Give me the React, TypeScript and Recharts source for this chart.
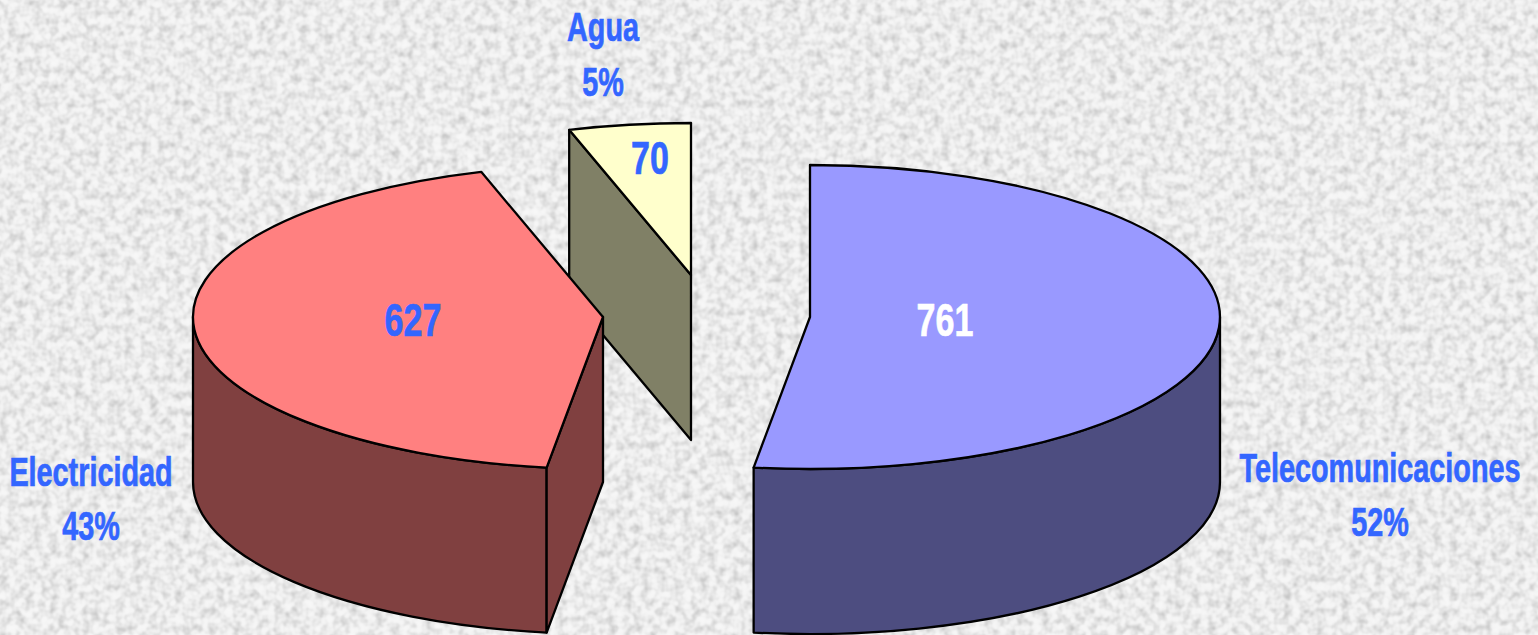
import React from "react";
import { PieChart, Pie, Cell } from "recharts";

// Draw order follows the list: back slice first.
const categories = ["Agua", "Electricidad", "Telecomunicaciones"];
const values = [70, 627, 761];

const WIDTH = 1538;
const HEIGHT = 635;
const FONT = "'Liberation Sans', Arial, sans-serif";
const BLUE = "#3366FF";

const topColors = ["#FFFFCC", "#FF8080", "#9999FF"];
const sideColors = ["#808066", "#804040", "#4D4D80"];
const valueColors = [BLUE, BLUE, "#FFFFFF"];
const explode = [
  { dx: -9, dy: -42 },
  { dx: -97, dy: 0 },
  { dx: 110, dy: 0 },
];
const valueAnchors = [
  { x: 650, y: 158 },
  { x: 413, y: 320 },
  { x: 945, y: 320 },
];
const nameAnchors = [
  { x: 603, y: 27, y2: 82 },
  { x: 91, y: 472, y2: 526 },
  { x: 1380, y: 468, y2: 522 },
];

const CX = 700;
const CY = 317;
const RX = 410;
const RY = 152;
const DEPTH = 165;
const VALUE_FONT = 46;
const VALUE_SQUEEZE = 0.74;
const NAME_FONT = 40;
const NAME_SQUEEZE = 0.72;
const NOISE_TABLE = "0.76 0.79 0.83 0.87 0.905 0.94 0.96 0.968 0.972 0.975";

const data = categories.map((name, i) => ({ name, value: values[i], slot: i }));

const rad = (d: number) => (d * Math.PI) / 180;

function Slice3D(props: any) {
  const { startAngle, endAngle, cx, cy, outerRadius, payload } = props;
  const slot = payload.slot ?? props.slot;
  const ax = cx + explode[slot].dx;
  const ay = cy + explode[slot].dy;
  const rx = outerRadius;
  const ry = (outerRadius * RY) / RX;
  const pt = (a: number, d = 0) => [ax + rx * Math.cos(rad(a)), ay - ry * Math.sin(rad(a)) + d];
  const f = (p: number[]) => `${p[0].toFixed(2)} ${p[1].toFixed(2)}`;
  const arc = (a: number, b: number, d = 0) => {
    const large = Math.abs(b - a) > 180 ? 1 : 0;
    const sweep = b > a ? 0 : 1;
    return `A ${rx} ${ry} 0 ${large} ${sweep} ${f(pt(b, d))}`;
  };
  const stroke = { stroke: "#000", strokeWidth: 2.3, strokeLinejoin: "round" as const };
  const side = sideColors[slot];
  const parts: React.ReactNode[] = [];

  // Curved outer wall: only the front half of the ellipse shows.
  for (const [lo, hi] of [
    [180, 360],
    [540, 720],
  ]) {
    const a0 = Math.max(startAngle, lo);
    const a1 = Math.min(endAngle, hi);
    if (a1 > a0) {
      parts.push(
        <path
          key={`wall${lo}`}
          d={`M ${f(pt(a0))} ${arc(a0, a1)} L ${f(pt(a1, DEPTH))} ${arc(a1, a0, DEPTH)} Z`}
          fill={side}
          {...stroke}
        />,
      );
    }
  }

  // Flat cut faces that turn toward the viewer.
  const apex = [ax, ay];
  const apexLow = [ax, ay + DEPTH];
  const eps = 1e-6;
  if (Math.cos(rad(startAngle)) > eps) {
    parts.push(
      <path
        key="cutStart"
        d={`M ${f(apex)} L ${f(pt(startAngle))} L ${f(pt(startAngle, DEPTH))} L ${f(apexLow)} Z`}
        fill={side}
        {...stroke}
      />,
    );
  }
  if (Math.cos(rad(endAngle)) < -eps) {
    parts.push(
      <path
        key="cutEnd"
        d={`M ${f(apex)} L ${f(pt(endAngle))} L ${f(pt(endAngle, DEPTH))} L ${f(apexLow)} Z`}
        fill={side}
        {...stroke}
      />,
    );
  }

  parts.push(
    <path
      key="top"
      d={`M ${f(apex)} L ${f(pt(startAngle))} ${arc(startAngle, endAngle)} Z`}
      fill={topColors[slot]}
      {...stroke}
    />,
  );
  return <g>{parts}</g>;
}

function Squeezed({ x, y, size, squeeze, fill, children }: any) {
  return (
    <text
      transform={`translate(${x} ${y}) scale(${squeeze} 1)`}
      fontSize={size}
      fill={fill}
      stroke={fill}
      strokeWidth={0.7}
      fontFamily={FONT}
      fontWeight={700}
      textAnchor="middle"
      dominantBaseline="central"
    >
      {children}
    </text>
  );
}

function SliceLabels(props: any) {
  const { index, percent, name, value } = props;
  const n = nameAnchors[index];
  const v = valueAnchors[index];
  return (
    <g>
      <Squeezed x={v.x} y={v.y} size={VALUE_FONT} squeeze={VALUE_SQUEEZE} fill={valueColors[index]}>
        {value}
      </Squeezed>
      <Squeezed x={n.x} y={n.y} size={NAME_FONT} squeeze={NAME_SQUEEZE} fill={BLUE}>
        {name}
      </Squeezed>
      <Squeezed x={n.x} y={n.y2} size={NAME_FONT} squeeze={NAME_SQUEEZE} fill={BLUE}>
        {`${Math.round(percent * 100)}%`}
      </Squeezed>
    </g>
  );
}

export default function App() {
  return (
    <div style={{ position: "absolute", left: 0, top: 0, width: WIDTH, height: HEIGHT, overflow: "hidden" }}>
      <svg width={WIDTH} height={HEIGHT} style={{ position: "absolute", left: 0, top: 0 }}>
        <defs>
          <filter id="granite" x="0" y="0" width="100%" height="100%" colorInterpolationFilters="sRGB">
            <feTurbulence type="fractalNoise" baseFrequency="0.12" numOctaves={2} seed={7} />
            <feColorMatrix
              type="matrix"
              values="0 0 0 1 0  0 0 0 1 0  0 0 0 1 0  0 0 0 0 1"
            />
            <feComponentTransfer>
              <feFuncR type="table" tableValues={NOISE_TABLE} />
              <feFuncG type="table" tableValues={NOISE_TABLE} />
              <feFuncB type="table" tableValues={NOISE_TABLE} />
            </feComponentTransfer>
            <feGaussianBlur stdDeviation="0.7" />
          </filter>
        </defs>
        <rect width={WIDTH} height={HEIGHT} filter="url(#granite)" />
      </svg>
      <div style={{ position: "absolute", left: 0, top: 0 }}>
        <PieChart width={WIDTH} height={HEIGHT} margin={{ top: 0, right: 0, bottom: 0, left: 0 }}>
          <Pie
            data={data}
            dataKey="value"
            nameKey="name"
            cx={CX}
            cy={CY}
            innerRadius={0}
            outerRadius={RX}
            startAngle={90}
            endAngle={450}
            paddingAngle={0}
            stroke="none"
            isAnimationActive={false}
            shape={Slice3D}
            label={SliceLabels}
            labelLine={false}
          >
            {data.map((d) => (
              <Cell key={d.name} fill={topColors[d.slot]} />
            ))}
          </Pie>
        </PieChart>
      </div>
    </div>
  );
}
